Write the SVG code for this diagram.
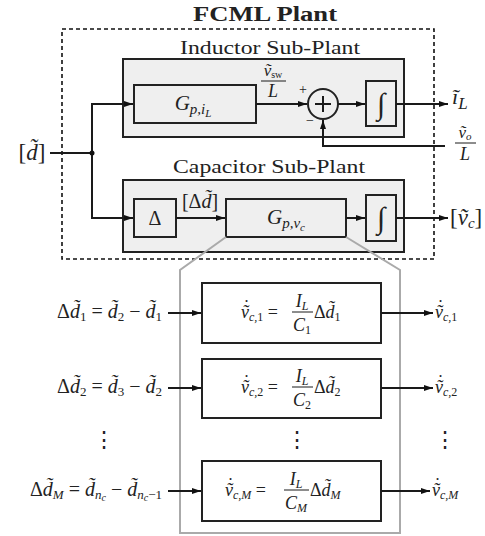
<svg xmlns="http://www.w3.org/2000/svg" width="485" height="536" viewBox="0 0 485 536">
<defs>
<marker id="ah" viewBox="0 0 9 6" refX="9" refY="3" markerWidth="9" markerHeight="6" markerUnits="userSpaceOnUse" orient="auto"><path d="M0,0 L9,3 L0,6 z" fill="#111"/></marker>
</defs>
<style>
.t{font-family:"Liberation Serif","DejaVu Serif",serif;fill:#222}
.m{font-family:"Liberation Serif","DejaVu Serif",serif;font-style:italic;fill:#222}
.r{font-style:normal}
.sub{fill:#efefef;stroke:#222;stroke-width:2}
.box{fill:#efefef;stroke:#222;stroke-width:2}
.wbox{fill:#fff;stroke:#222;stroke-width:2}
.w{fill:none;stroke:#1a1a1a;stroke-width:2}
.thin{fill:none;stroke:#1a1a1a;stroke-width:1}
.g{fill:none;stroke:#aaa;stroke-width:2}
.dash{fill:none;stroke:#111;stroke-width:1.6;stroke-dasharray:4 3}
</style>

<g id="plant">
<text class="t" x="265" y="21" font-size="20" font-weight="bold" text-anchor="middle" textLength="144" lengthAdjust="spacingAndGlyphs">FCML Plant</text>
<rect class="dash" x="62" y="29" width="372" height="230"/>
</g>

<g id="inductor-subplant">
<text class="t" x="270" y="54" font-size="19" text-anchor="middle" textLength="180" lengthAdjust="spacingAndGlyphs">Inductor Sub-Plant</text>
<rect class="sub" x="123" y="59" width="281" height="78"/>
</g>

<g id="capacitor-subplant">
<text class="t" x="269" y="173" font-size="19" text-anchor="middle" textLength="192" lengthAdjust="spacingAndGlyphs">Capacitor Sub-Plant</text>
<rect class="sub" x="123" y="180" width="281" height="72"/>
</g>

<g id="G-iL">
<rect class="box" x="134" y="85" width="122" height="38"/>
<text class="m" x="193" y="110" font-size="21" text-anchor="middle">G<tspan font-size="15" dy="4">p,i</tspan><tspan font-size="11" dy="3">L</tspan></text>
</g>

<g id="sum">
<circle cx="323" cy="104" r="15" fill="#efefef" stroke="#222" stroke-width="2"/>
<path class="w" d="M315,104 H331 M323,96 V112"/>
<text class="t" x="303" y="94" font-size="14" text-anchor="middle">+</text>
<text class="t" x="310" y="125" font-size="14" text-anchor="middle">−</text>
</g>

<g id="int-L">
<rect class="box" x="366" y="81" width="30" height="45"/>
<text class="t" x="381" y="114" font-size="30" text-anchor="middle">∫</text>
</g>

<g id="delta">
<rect class="box" x="134" y="199" width="42" height="38"/>
<text class="t" x="155" y="225" font-size="20" text-anchor="middle">Δ</text>
</g>

<g id="G-vc">
<rect class="box" x="226" y="199" width="120" height="38"/>
<text class="m" x="286" y="224" font-size="21" text-anchor="middle">G<tspan font-size="15" dy="4">p,v</tspan><tspan font-size="11" dy="3">c</tspan></text>
</g>

<g id="int-C">
<rect class="box" x="366" y="195" width="30" height="46"/>
<text class="t" x="381" y="228" font-size="30" text-anchor="middle">∫</text>
</g>

<g id="labels">
<text class="m" x="273" y="76" font-size="17" text-anchor="middle">ṽ<tspan class="r" font-size="10" dy="2">sw</tspan></text>
<line class="thin" x1="261" y1="81" x2="286" y2="81"/>
<text class="m" x="273" y="97" font-size="18" text-anchor="middle">L</text>
<text class="m" x="452" y="104" font-size="22">ĩ<tspan font-size="17" dy="5">L</tspan></text>
<text class="m" x="465" y="138" font-size="17" text-anchor="middle">ṽ<tspan font-size="11" dy="2">o</tspan></text>
<line class="thin" x1="455" y1="143" x2="476" y2="143"/>
<text class="m" x="465" y="160" font-size="18" text-anchor="middle">L</text>
<text class="m" x="32" y="160" font-size="23" text-anchor="middle"><tspan class="r">[</tspan>d̃<tspan class="r">]</tspan></text>
<text class="m" x="200" y="208" font-size="20" text-anchor="middle"><tspan class="r">[Δ</tspan>d̃<tspan class="r">]</tspan></text>
<text class="m" x="450" y="225" font-size="23"><tspan class="r">[</tspan>ṽ<tspan font-size="15" dy="3">c</tspan><tspan class="r" dy="-3">]</tspan></text>
</g>

<g id="zoom-frame">
<path class="g" d="M226,237 L180,270 V533 H400 V270 L346,237"/>
</g>

<g id="row1">
<rect class="wbox" x="202" y="283" width="179" height="60"/>
<text class="m" x="162" y="318" font-size="20" text-anchor="end"><tspan class="r">Δ</tspan>d̃<tspan class="r" font-size="13" dy="3">1</tspan><tspan class="r" dy="-3"> = </tspan>d̃<tspan class="r" font-size="13" dy="3">2</tspan><tspan class="r" dy="-3"> − </tspan>d̃<tspan class="r" font-size="13" dy="3">1</tspan></text>
<text class="m" x="241" y="318" font-size="18">ṽ<tspan class="r" dx="-5.5" dy="-5">˙</tspan><tspan dx="-0.5" dy="8" font-size="12">c,</tspan><tspan class="r" font-size="12">1</tspan><tspan class="r" dy="-3"> =</tspan></text>
<text class="m" x="302" y="307" font-size="18" text-anchor="middle">I<tspan font-size="12" dy="3">L</tspan></text>
<line class="thin" x1="292" y1="312" x2="313" y2="312"/>
<text class="m" x="302" y="331" font-size="18" text-anchor="middle">C<tspan class="r" font-size="12" dy="3">1</tspan></text>
<text class="m" x="314" y="318" font-size="18"><tspan class="r">Δ</tspan>d̃<tspan class="r" font-size="12" dy="3">1</tspan></text>
<text class="m" x="435" y="318" font-size="18">ṽ<tspan class="r" dx="-5.5" dy="-5">˙</tspan><tspan dx="-0.5" dy="8" font-size="12">c,</tspan><tspan class="r" font-size="12">1</tspan></text>
</g>

<g id="row2">
<rect class="wbox" x="202" y="359" width="179" height="59"/>
<text class="m" x="162" y="393" font-size="20" text-anchor="end"><tspan class="r">Δ</tspan>d̃<tspan class="r" font-size="13" dy="3">2</tspan><tspan class="r" dy="-3"> = </tspan>d̃<tspan class="r" font-size="13" dy="3">3</tspan><tspan class="r" dy="-3"> − </tspan>d̃<tspan class="r" font-size="13" dy="3">2</tspan></text>
<text class="m" x="241" y="393" font-size="18">ṽ<tspan class="r" dx="-5.5" dy="-5">˙</tspan><tspan dx="-0.5" dy="8" font-size="12">c,</tspan><tspan class="r" font-size="12">2</tspan><tspan class="r" dy="-3"> =</tspan></text>
<text class="m" x="302" y="382" font-size="18" text-anchor="middle">I<tspan font-size="12" dy="3">L</tspan></text>
<line class="thin" x1="292" y1="387" x2="313" y2="387"/>
<text class="m" x="302" y="406" font-size="18" text-anchor="middle">C<tspan class="r" font-size="12" dy="3">2</tspan></text>
<text class="m" x="314" y="393" font-size="18"><tspan class="r">Δ</tspan>d̃<tspan class="r" font-size="12" dy="3">2</tspan></text>
<text class="m" x="435" y="393" font-size="18">ṽ<tspan class="r" dx="-5.5" dy="-5">˙</tspan><tspan dx="-0.5" dy="8" font-size="12">c,</tspan><tspan class="r" font-size="12">2</tspan></text>
</g>

<g id="dots">
<text class="t" x="104" y="447" font-size="22" text-anchor="middle">⋮</text>
<text class="t" x="297" y="447" font-size="22" text-anchor="middle">⋮</text>
<text class="t" x="445" y="447" font-size="22" text-anchor="middle">⋮</text>
</g>

<g id="rowM">
<rect class="wbox" x="202" y="461" width="179" height="60"/>
<text class="m" x="162" y="496" font-size="20" text-anchor="end"><tspan class="r">Δ</tspan>d̃<tspan font-size="13" dy="3">M</tspan><tspan class="r" dy="-3"> = </tspan>d̃<tspan font-size="13" dy="3">n</tspan><tspan font-size="10" dy="2">c</tspan><tspan class="r" dy="-5"> − </tspan>d̃<tspan font-size="13" dy="3">n</tspan><tspan font-size="10" dy="2">c</tspan><tspan class="r" font-size="13" dy="-2">−1</tspan></text>
<text class="m" x="225" y="496" font-size="18">ṽ<tspan class="r" dx="-5.5" dy="-5">˙</tspan><tspan dx="-0.5" dy="8" font-size="12">c,M</tspan><tspan class="r" dy="-3"> =</tspan></text>
<text class="m" x="296" y="485" font-size="18" text-anchor="middle">I<tspan font-size="12" dy="3">L</tspan></text>
<line class="thin" x1="284" y1="490" x2="309" y2="490"/>
<text class="m" x="296" y="509" font-size="18" text-anchor="middle">C<tspan font-size="12" dy="3">M</tspan></text>
<text class="m" x="310" y="496" font-size="18"><tspan class="r">Δ</tspan>d̃<tspan font-size="12" dy="3">M</tspan></text>
<text class="m" x="432" y="496" font-size="18">ṽ<tspan class="r" dx="-5.5" dy="-5">˙</tspan><tspan dx="-0.5" dy="8" font-size="12">c,M</tspan></text>
</g>

<g id="connectors">
<path class="w" d="M50,153 H92"/>
<path class="w" d="M92,153 V104 H133" marker-end="url(#ah)"/>
<path class="w" d="M92,153 V218 H133" marker-end="url(#ah)"/>
<circle cx="92" cy="153" r="2.5" fill="#111"/>
<path class="w" d="M256,104 H307" marker-end="url(#ah)"/>
<path class="w" d="M338,104 H365" marker-end="url(#ah)"/>
<path class="w" d="M396,104 H448" marker-end="url(#ah)"/>
<path class="w" d="M445,146 H323 V120" marker-end="url(#ah)"/>
<path class="w" d="M176,218 H225" marker-end="url(#ah)"/>
<path class="w" d="M346,218 H365" marker-end="url(#ah)"/>
<path class="w" d="M396,218 H448" marker-end="url(#ah)"/>
<path class="w" d="M168,313 H201" marker-end="url(#ah)"/>
<path class="w" d="M381,313 H433" marker-end="url(#ah)"/>
<path class="w" d="M168,388 H201" marker-end="url(#ah)"/>
<path class="w" d="M381,388 H433" marker-end="url(#ah)"/>
<path class="w" d="M168,491 H201" marker-end="url(#ah)"/>
<path class="w" d="M381,491 H430" marker-end="url(#ah)"/>
</g>
</svg>
